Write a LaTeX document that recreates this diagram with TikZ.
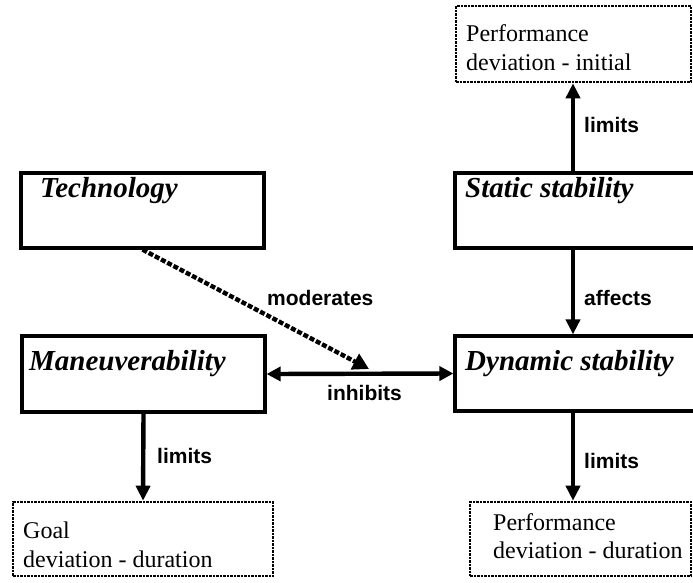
\documentclass[tikz,border=0pt]{standalone}
\usepackage{fontspec}
\setmainfont{Liberation Serif}
\newfontfamily\lsans{Liberation Sans}
\usetikzlibrary{arrows.meta}
\tikzset{
  solidbox/.style={draw, line width=3.2pt, rectangle, inner sep=0pt},
  dotbox/.style={draw, line width=2.6pt, dash pattern=on 2.5pt off 1pt, rectangle, inner sep=0pt},
  title/.style={anchor=base west, inner sep=0pt, font=\fontsize{29}{33}\selectfont\bfseries\itshape},
  boxtext/.style={anchor=base west, inner sep=0pt, align=left, font=\fontsize{24}{29}\selectfont},
  lab/.style={anchor=base west, inner sep=0pt, font=\fontsize{21}{24}\selectfont\lsans\bfseries},
  arr/.style={line width=4.4pt, -{Triangle[length=15pt,width=14pt]}},
  darr/.style={line width=4.4pt, {Triangle[length=14pt,width=14pt]}-{Triangle[length=14pt,width=14pt]}},
  dasharr/.style={line width=4.4pt, dash pattern=on 5pt off 2pt, -{Triangle[length=16pt,width=17pt]}}
}
\begin{document}
\begin{tikzpicture}[x=1pt,y=-1pt]
\useasboundingbox (0,0) rectangle (693,582);
\clip (0,0) rectangle (693,582);
% boxes
\node[solidbox, minimum width=243pt, minimum height=75pt] (tech) at (142.5,210.5) {};
\node[solidbox, minimum width=265pt, minimum height=75pt] (static) at (587.5,210.5) {};
\node[solidbox, minimum width=243pt, minimum height=76pt] (maneu) at (143.5,374) {};
\node[solidbox, minimum width=265pt, minimum height=75pt] (dyn) at (587.5,373.5) {};
\node[dotbox, minimum width=235pt, minimum height=76pt] (pinit) at (573.5,44) {};
\node[dotbox, minimum width=260pt, minimum height=74pt] (goal) at (143,539) {};
\node[dotbox, minimum width=221pt, minimum height=74pt] (pdur) at (580.5,539) {};
% box texts
\node[title] (techt) at (40,197) {Technology};
\node[title] (statict) at (465,197) {Static stability};
\node[title] (maneut) at (29,370) {Maneuverability};
\node[title] (dynt) at (465,370) {Dynamic stability};
\node[boxtext] (pinit1) at (466,41) {Performance};
\node[boxtext] (pinit2) at (466,70) {deviation - initial};
\node[boxtext] (goal1) at (23,538) {Goal};
\node[boxtext] (goal2) at (23,567) {deviation - duration};
\node[boxtext] (pdur1) at (493,530) {Performance};
\node[boxtext] (pdur2) at (493,558) {deviation - duration};
% connectors
\coordinate (rx) at (573,0);
\coordinate (modend) at (369,369);
\draw[arr] (static.north -| rx) -- (pinit.south -| rx);
\draw[arr] (static.south -| rx) -- (dyn.north -| rx);
\draw[arr] (dyn.south -| rx) -- (pdur.north -| rx);
\draw[arr] (maneu.south) -- (goal.north);
\draw[darr] (maneu.east) -- (dyn.west);
\draw[dasharr] (tech.south) -- (modend);
% labels
\node[lab] (l1) at (584,132) {limits};
\node[lab] (l2) at (584,305) {affects};
\node[lab] (l3) at (584,468) {limits};
\node[lab] (l4) at (157,463) {limits};
\node[lab] (l5) at (267,305) {moderates};
\node[lab] (l6) at (327,400) {inhibits};
\end{tikzpicture}
\end{document}
